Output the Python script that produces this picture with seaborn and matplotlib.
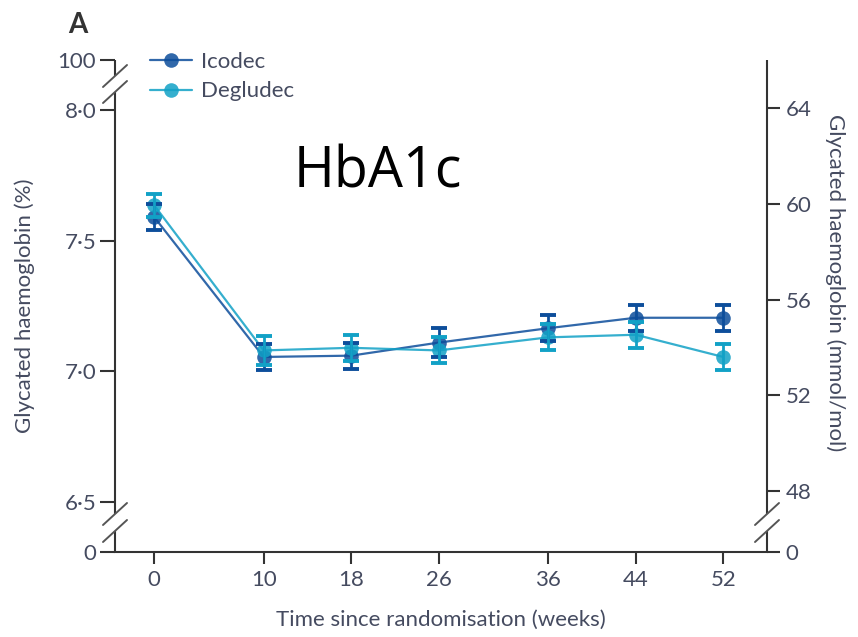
import numpy as np
import pandas as pd
import matplotlib
matplotlib.use("Agg")
import matplotlib.pyplot as plt
import seaborn as sns

# ---- data ----
weeks = [0, 10, 18, 26, 36, 44, 52]
icodec = [7.59, 7.055, 7.06, 7.11, 7.165, 7.205, 7.205]
icodec_se = [0.05, 0.05, 0.05, 0.055, 0.05, 0.05, 0.05]
degludec = [7.635, 7.08, 7.09, 7.08, 7.13, 7.14, 7.055]
degludec_se = [0.045, 0.055, 0.05, 0.05, 0.05, 0.05, 0.05]
groups = ["Icodec", "Degludec"]
left_ticks = [6.5, 7.0, 7.5, 8.0]
left_labels = ["6·5", "7·0", "7·5", "8·0"]
right_ticks_mmol = [48, 52, 56, 60, 64]

colors = {"Icodec": "#0d4e9b", "Degludec": "#12a1c6"}
txt = "#454b60"
FS = 16

sns.set_theme(style="white")
plt.rcParams["font.family"] = ["Lato", "DejaVu Sans"]

df = pd.concat([
    pd.DataFrame({"week": weeks, "hba1c": icodec, "se": icodec_se, "group": "Icodec"}),
    pd.DataFrame({"week": weeks, "hba1c": degludec, "se": degludec_se, "group": "Degludec"}),
])

fig = plt.figure(figsize=(8.58, 6.37), dpi=100)
ax = fig.add_axes([115/858, 1-552/637, (767-115)/858, (552-60)/637])

ylo, yhi = 6.3086, 8.1914
ax.set_ylim(ylo, yhi)
ax.set_xlim(-3.59, 56.0)

sns.lineplot(data=df, x="week", y="hba1c", hue="group", hue_order=groups,
             palette=colors, marker="o", markersize=10.5, markeredgewidth=0,
             linewidth=1.6, ax=ax, legend=True, zorder=3)
for line in ax.lines:
    line.set_alpha(0.85)

for g, vals, se in [("Icodec", icodec, icodec_se), ("Degludec", degludec, degludec_se)]:
    ax.errorbar(weeks, vals, yerr=se, fmt="none", ecolor=colors[g],
                elinewidth=2.0, capsize=5.5, capthick=2.8, zorder=4)

handles, labels = ax.get_legend_handles_labels()
ax.legend(handles, labels, loc="upper left", bbox_to_anchor=(150/858, 1-52/637),
          bbox_transform=fig.transFigure, frameon=False, fontsize=FS,
          handlelength=1.9, handletextpad=0.4, labelspacing=0.42,
          borderpad=0, borderaxespad=0, labelcolor=txt)

# spines
for s in ["top", "left", "right"]:
    ax.spines[s].set_visible(False)
ax.spines["bottom"].set_color("#333333")
ax.spines["bottom"].set_linewidth(1.5)

# x ticks
ax.set_xticks(weeks)
ax.set_xticklabels([str(w) for w in weeks])
ax.tick_params(axis="x", direction="out", length=8.6, width=1.5, color="#333333",
               labelsize=FS, labelcolor=txt, pad=4, bottom=True)
ax.set_xlabel("")
ax.set_ylabel("")

# left y ticks
ax.set_yticks([ylo] + left_ticks + [yhi])
ax.set_yticklabels(["0"] + left_labels + ["100"])
ax.tick_params(axis="y", direction="out", length=10.5, width=1.5, color="#333333",
               labelsize=FS, labelcolor=txt, pad=3, left=True)

# right axis (mmol/mol)
ax2 = ax.twinx()
ax2.set_ylim(ylo, yhi)
right_pos = [(m + 23.5) / 10.929 for m in right_ticks_mmol]
ax2.set_yticks([ylo] + right_pos)
ax2.set_yticklabels(["0"] + [str(m) for m in right_ticks_mmol])
ax2.tick_params(axis="y", direction="out", length=9.4, width=1.5, color="#333333",
                labelsize=FS, labelcolor=txt, pad=4, right=True)
for s in ax2.spines.values():
    s.set_visible(False)
ax2.grid(False)
ax.grid(False)

# manual spines with breaks (axes fractions)
def frac(ypx):
    return (552 - ypx) / 492.0

kw = dict(transform=ax.transAxes, color="#333333", lw=1.5, clip_on=False, solid_capstyle="butt")
ax.plot([0, 0], [frac(60), frac(76)], **kw)
ax.plot([0, 0], [frac(92), frac(514)], **kw)
ax.plot([0, 0], [frac(531), frac(552)], **kw)
ax.plot([1, 1], [frac(60), frac(514)], **kw)
ax.plot([1, 1], [frac(531), frac(552)], **kw)

dx, dy = 12/652, 11/492
bkw = dict(transform=ax.transAxes, color="#555555", lw=1.4, clip_on=False)
for ypx in [76, 92]:
    yc = frac(ypx)
    ax.plot([-dx, dx], [yc - dy, yc + dy], **bkw)
for xc in [0, 1]:
    for ypx in [514, 531]:
        yc = frac(ypx)
        ax.plot([xc - dx, xc + dx], [yc - dy, yc + dy], **bkw)

# texts
fig.text(78/858, 1-25/637, "A", fontsize=20, fontweight="bold", color="#333333",
         ha="center", va="center")
fig.text(378/858, 1-173/637, "HbA1c", fontsize=40, color="black",
         ha="center", va="center", family=["Open Sans", "DejaVu Sans"])
fig.text(25/858, 1-306/637, "Glycated haemoglobin (%)", rotation=90, fontsize=FS,
         color=txt, ha="center", va="center")
fig.text(835/858, 1-283/637, "Glycated haemoglobin (mmol/mol)", rotation=270, fontsize=FS,
         color=txt, ha="center", va="center")
fig.text(441/858, 1-620/637, "Time since randomisation (weeks)", fontsize=FS,
         color=txt, ha="center", va="center")

fig.savefig("out.png", dpi=100)
